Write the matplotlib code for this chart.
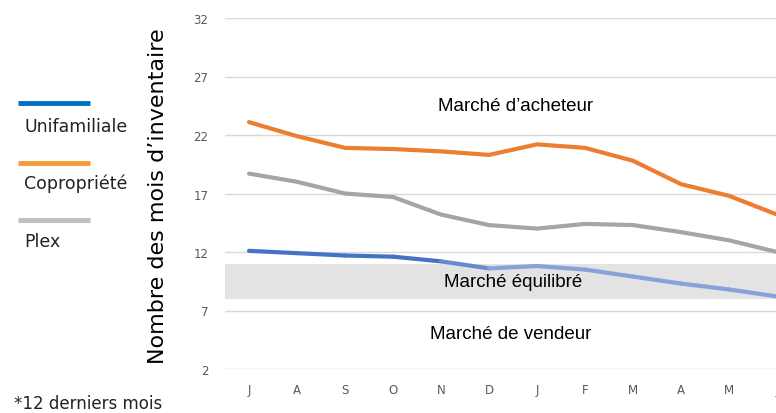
import numpy as np
import matplotlib
matplotlib.use("Agg")
import matplotlib.pyplot as plt
from matplotlib.collections import LineCollection
from matplotlib.lines import Line2D

# months (July -> June, 12 derniers mois)
months = ["J", "A", "S", "O", "N", "D", "J", "F", "M", "A", "M", "J"]

unifamiliale = [12.1, 11.9, 11.7, 11.6, 11.2, 10.6, 10.8, 10.5, 9.9, 9.3, 8.8, 8.2]
copropriete = [23.1, 21.9, 20.9, 20.8, 20.6, 20.3, 21.2, 20.9, 19.8, 17.8, 16.8, 15.2]
plex = [18.7, 18.0, 17.0, 16.7, 15.2, 14.3, 14.0, 14.4, 14.3, 13.7, 13.0, 12.0]

band_low, band_high = 8, 11  # marché équilibré
yticks = [2, 7, 12, 17, 22, 27, 32]

fig = plt.figure(figsize=(7.76, 4.14), dpi=100)
# plot area runs past the right edge like in the original crop
ax = fig.add_axes([225 / 776, 44 / 414, 576 / 776, 351 / 414])

x = np.arange(len(months))
ax.set_xlim(-0.5, len(months) - 0.5)
ax.set_ylim(2, 32)

ax.axhspan(band_low, band_high, color="#e3e3e3", lw=0, zorder=1)
for y in yticks:
    ax.axhline(y, color="#d9d9d9", lw=1, zorder=0.5)

lw = 3.0
ax.plot(x, copropriete, color="#ed7d31", lw=lw, solid_capstyle="round", zorder=3)
ax.plot(x, plex, color="#a5a5a5", lw=lw, solid_capstyle="round", zorder=3)

# blue line fades from dark to light blue
pts = np.column_stack([x, unifamiliale])
segs = np.stack([pts[:-1], pts[1:]], axis=1)
c_dark = np.array(matplotlib.colors.to_rgb("#4472c4"))
c_light = np.array(matplotlib.colors.to_rgb("#87a2d6"))
seg_cols = []
for i in range(len(segs)):
    t = min(max((i - 3) / 2, 0), 1)
    seg_cols.append(c_dark * (1 - t) + c_light * t)
ax.add_collection(LineCollection(segs, colors=seg_cols, lw=lw, capstyle="round", zorder=3))

txt_kw = dict(ha="center", va="center", fontsize=13.5, family="Liberation Sans",
              color="black", zorder=4)
ax.text(5.55, 24.5, "Marché d’acheteur", **txt_kw)
ax.text(5.5, 9.5, "Marché équilibré", **txt_kw)
ax.text(5.45, 5.0, "Marché de vendeur", **txt_kw)

ax.set_xticks(x)
ax.set_xticklabels(months)
ax.set_yticks(yticks)
ax.tick_params(length=0, labelsize=8.5, labelcolor="#595959")
ax.tick_params(axis="x", pad=10)
ax.tick_params(axis="y", pad=12)
for s in ax.spines.values():
    s.set_visible(False)

fig.text(158 / 776, 1 - 196 / 414, "Nombre des mois d’inventaire", rotation=90,
         ha="center", va="center", fontsize=16, color="black", family="DejaVu Sans")

# legend drawn by hand on the left
leg = [("Unifamiliale", "#0070c0", 104, 127),
       ("Copropriété", "#f79b3a", 164, 184),
       ("Plex", "#bfbfbf", 221, 242)]
for name, col, ly, ty in leg:
    fig.add_artist(Line2D([18 / 776, 90 / 776], [1 - ly / 414, 1 - ly / 414],
                          color=col, lw=3.5, solid_capstyle="butt",
                          transform=fig.transFigure))
    fig.text(24 / 776, 1 - ty / 414, name, ha="left", va="center",
             fontsize=12.5, color="#222222", family="DejaVu Sans")

fig.text(14 / 776, 1 - 404 / 414, "*12 derniers mois", ha="left", va="center",
         fontsize=12, color="#222222", family="DejaVu Sans")

fig.savefig("out.png", dpi=100)
